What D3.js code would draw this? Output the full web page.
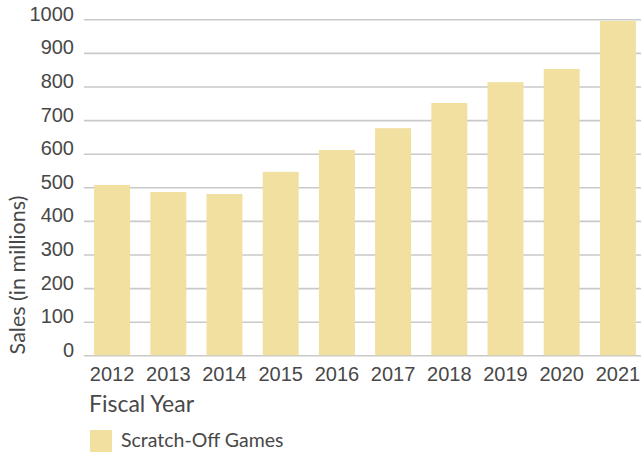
<!DOCTYPE html>
<html>
<head>
<meta charset="utf-8">
<script src="https://cdn.jsdelivr.net/npm/d3@7"></script>
<style>
  html, body { margin: 0; padding: 0; background: #fff; }
  svg { display: block; font-family: Lato, "Open Sans", sans-serif; }
</style>
</head>
<body>
<svg id="chart" width="641" height="452"></svg>
<script>
// Scratch-off game sales by fiscal year (millions of dollars)
const years = ["2012", "2013", "2014", "2015", "2016", "2017", "2018", "2019", "2020", "2021"];
const sales = [507, 486, 480, 546, 611, 676, 751, 813, 852, 995];
const yTicks = [0, 100, 200, 300, 400, 500, 600, 700, 800, 900, 1000];
const seriesName = "Scratch-Off Games";

const svg = d3.select("#chart");
const barColor = "#f1e0a0";
const textColor = "#484848";

const x = d3.scaleBand().domain(years).range([84, 646]).paddingInner(0.36).paddingOuter(0.18);
const y = d3.scaleLinear().domain([0, 1000]).range([355.3, 19.3]);

// Horizontal gridlines
const yAxis = d3.axisLeft(y).tickValues(yTicks).tickFormat(d3.format("d")).tickSize(-(641 - 84));
const gy = svg.append("g").attr("transform", "translate(84,0)").call(yAxis);
gy.select(".domain").remove();
gy.selectAll(".tick line").attr("stroke", "#c9c9c9").attr("stroke-width", 1.6);
gy.selectAll(".tick text")
  .attr("fill", textColor)
  .attr("font-size", 20)
  .attr("dy", "0.05em")
  .attr("x", -10);

// Bars
svg.append("g").selectAll("rect")
  .data(years.map((yr, i) => ({ yr, v: sales[i] })))
  .join("rect")
  .attr("x", d => x(d.yr))
  .attr("width", x.bandwidth())
  .attr("y", d => y(d.v))
  .attr("height", d => y(0) - y(d.v))
  .attr("fill", barColor);

// Year labels
const xAxis = d3.axisBottom(x).tickSize(0).tickPadding(12);
const gx = svg.append("g").attr("transform", `translate(0,${y(0)})`).call(xAxis);
gx.select(".domain").remove();
gx.selectAll(".tick text").attr("fill", textColor).attr("font-size", 20);

// Axis titles
svg.append("text")
  .attr("x", 89).attr("y", 412)
  .attr("fill", textColor).attr("font-size", 23)
  .text("Fiscal Year");

svg.append("text")
  .attr("transform", "translate(25,275) rotate(-90)")
  .attr("text-anchor", "middle")
  .attr("fill", textColor).attr("font-size", 21.5)
  .text("Sales (in millions)");

// Legend
svg.append("rect").attr("x", 90).attr("y", 430).attr("width", 22).attr("height", 22).attr("fill", barColor);
svg.append("text")
  .attr("x", 121).attr("y", 447)
  .attr("fill", textColor).attr("font-size", 19.5)
  .text(seriesName);
</script>
</body>
</html>
